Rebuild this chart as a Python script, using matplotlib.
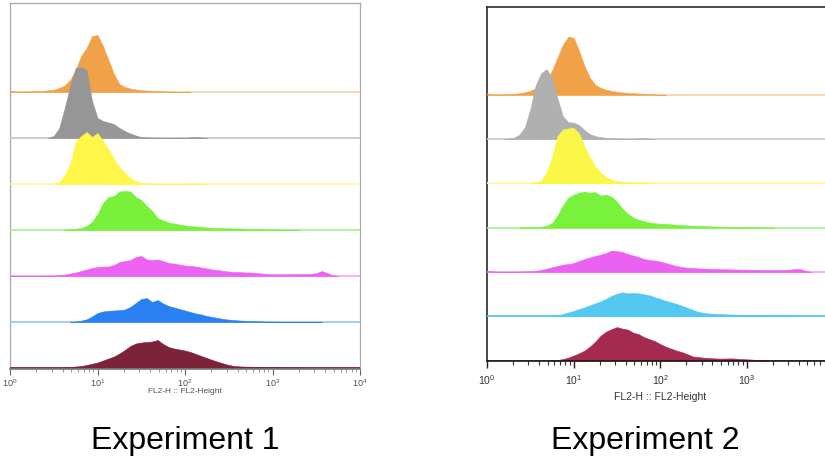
import numpy as np
import matplotlib
matplotlib.use("Agg")
import matplotlib.pyplot as plt
from matplotlib.ticker import FixedLocator, NullFormatter

plt.rcParams['font.family'] = ['Liberation Sans', 'DejaVu Sans']
plt.rcParams['mathtext.fontset'] = 'custom'
plt.rcParams['mathtext.rm'] = 'Liberation Sans'
plt.rcParams['mathtext.it'] = 'Liberation Sans'
plt.rcParams['mathtext.default'] = 'regular'

# ---------------- data ----------------
BINS_PER_DECADE = 16
panel_titles = ["Experiment 1", "Experiment 2"]
x_label = "FL2-H :: FL2-Height"
tick_values = [1, 10, 100, 1000, 10000]
tick_labels = ["$10^{0}$", "$10^{1}$", "$10^{2}$", "$10^{3}$", "$10^{4}$"]

# histogram counts (relative), one list per sample, starting at bin index *_start
exp1_orange_start = 0
exp1_orange = [1.5, 0.5, 0.4, 0.5, 0.7, 0.9, 1.2, 1.7, 2.4, 4, 6.5, 12, 22, 36, 44, 56, 57, 46, 32, 18,
               8, 5, 3.5, 2.5, 1.8, 1.5, 1.1, 0.8, 0.6, 0.4, 0.3, 0.2, 0.1, 0]
exp1_gray_start = 7
exp1_gray = [0.5, 2, 10, 30, 52, 70, 71, 68, 37, 20, 17, 15.5, 14, 10, 7, 4.5, 2.5, 1, 0.6, 0.4,
             0.3, 0.2, 0.2, 0.2, 0.3, 0.2, 0.8, 1, 0.5, 0]
exp1_yellow_start = 8
exp1_yellow = [0.3, 2, 9, 20, 42, 48, 52, 47, 51, 43, 35, 25, 17, 11, 6, 3, 1, 0.5, 0.3, 0.2,
               0.2, 0.2, 0.2, 0.2, 0.2, 0.4, 0.5, 0.3, 0]
exp1_green_start = 10
exp1_green = [0.3, 0.7, 1.2, 2, 4, 8, 16, 27, 33, 34, 38.5, 39, 38.5, 33, 30, 24, 19, 12, 9.5, 7.5,
              6.5, 5.5, 4.5, 4, 3.5, 3, 2.5, 2.3, 2, 1.9, 1.7, 1.6, 1.5, 1.3, 1.2, 1.1, 1, 0.8, 0.7, 0.6,
              0.5, 0.4, 0.3, 0]
exp1_magenta_start = 0
exp1_magenta = [0.5, 0.3, 0.2, 0.2, 0.2, 0.3, 0.3, 0.4, 0.6, 0.8, 1.5, 2.5, 3.5, 5, 6.5, 8, 9, 9.5, 9.5, 11,
                14, 15, 16, 19, 20, 16.5, 16, 16.5, 15, 13, 12.5, 11.5, 10.5, 10, 9.5, 8.5, 7.5, 6.5, 6, 5,
                4.5, 4, 4, 3.5, 3.5, 3, 2.5, 2, 1.8, 1.7, 1.7, 1.8, 1.8, 1.8, 2, 2.2, 2.8, 5, 3, 1, 0]
exp1_blue_start = 11
exp1_blue = [0.2, 0.5, 1.3, 2.7, 5.5, 9, 10.5, 11.2, 11.5, 11.8, 12.5, 15, 19, 23, 24, 20, 22, 18.5, 16, 14.5,
             13, 11.5, 10, 8.5, 7.5, 6, 5, 4, 3, 2.4, 1.9, 1.5, 1.2, 1, 0.8, 0.6, 0.4, 0.3, 0.25, 0.2,
             0.2, 0.2, 0.2, 0.15, 0.15, 0.1, 0]
exp1_maroon_start = 9
exp1_maroon = [0.1, 0.5, 1, 1.5, 2, 3, 4.3, 5.5, 7.5, 9.5, 11.5, 14.5, 18, 22, 24.5, 25.5, 26, 26.5, 28, 24,
               21, 19.5, 18.5, 17.5, 16, 14, 12, 10, 8, 6.3, 4.5, 3, 2, 1.6, 1.4, 1.3, 1.2, 1.1, 1, 1,
               0.9, 0.8, 0.7, 0.6, 0.5, 0.4, 0.2, 0]

exp2_orange_start = 0
exp2_orange = [1.5, 0.5, 0.4, 0.5, 0.7, 1, 1.5, 2.5, 4, 6.5, 9.5, 15, 24, 37, 50, 58, 57, 44, 29, 17,
               10, 7, 5, 4, 3, 2.4, 2, 1.6, 1.3, 1, 0.7, 0.4, 0.2, 0]
exp2_gray_start = 3
exp2_gray = [0.2, 0.6, 1.5, 4.5, 12, 30, 54, 66, 70, 61, 41, 23, 17, 16.5, 14, 9, 5, 3, 2, 1.3,
             0.9, 0.7, 0.5, 0.4, 0.4, 0.8, 1, 0.5, 0]
exp2_yellow_start = 8
exp2_yellow = [0.2, 0.6, 3, 11, 26, 47, 54, 55, 55.5, 50, 37, 26, 17, 11, 6.5, 3.5, 2.2, 1.5, 1.1, 0.8,
               0.5, 0.3, 0]
exp2_green_start = 6
exp2_green = [0.2, 0.3, 0.4, 0.6, 1, 2, 4.5, 12, 22, 30, 33, 35, 36, 35, 35.5, 32, 33, 31, 26, 19,
              14, 10, 8, 6.5, 5.2, 4.5, 4, 3.7, 3.4, 3, 2.6, 2.3, 2, 1.8, 1.6, 1.4, 1.2, 1.1, 1, 0.9,
              0.8, 0.7, 0.6, 0.5, 0.4, 0.3, 0.2, 0]
exp2_magenta_start = 0
exp2_magenta = [1.3, 0.8, 0.4, 0.3, 0.3, 0.4, 0.5, 0.6, 0.8, 1.2, 2, 3.3, 4.8, 6, 7.2, 8, 9, 11, 13, 14.5,
                16, 17.5, 19, 21.5, 21, 20, 18, 16.5, 15, 13, 12, 11.5, 10.5, 9, 7.5, 6, 5, 4.3, 3.9, 3.6,
                3.4, 3.2, 3, 2.8, 2.7, 2.6, 2.5, 2.4, 2.3, 2.2, 2.1, 2, 2, 2, 2, 2.1, 2.4, 3, 2.8, 1, 0]
exp2_blue_start = 12
exp2_blue = [0.2, 1, 2.3, 3.8, 5.5, 7.2, 9, 11, 13, 15, 17.5, 20.5, 22.5, 24, 23, 23.5, 23, 22, 21, 19,
             17.5, 15.5, 14, 12.5, 10.5, 8.5, 6.5, 4.5, 3.5, 2.8, 2.5, 2.3, 2, 1.8, 1.6, 1.5, 1.4, 1.3, 1.3, 1.2,
             1.2, 1.2, 1.2, 1.1, 1, 0.5, 0]
exp2_maroon_start = 12
exp2_maroon = [0.2, 0.6, 1.5, 3, 5, 7.3, 10, 14, 19, 25, 29, 31.5, 33.5, 32, 31, 28, 26.5, 23.5, 21.5, 19.5,
               16.5, 14, 12, 10, 8.5, 6.5, 4.2, 3.5, 3, 2.6, 2.2, 2, 2.1, 2.2, 2, 1.6, 1.3, 1, 0.6, 0.3, 0]

exp1_series = [(exp1_orange_start, exp1_orange), (exp1_gray_start, exp1_gray),
               (exp1_yellow_start, exp1_yellow), (exp1_green_start, exp1_green),
               (exp1_magenta_start, exp1_magenta), (exp1_blue_start, exp1_blue),
               (exp1_maroon_start, exp1_maroon)]
exp2_series = [(exp2_orange_start, exp2_orange), (exp2_gray_start, exp2_gray),
               (exp2_yellow_start, exp2_yellow), (exp2_green_start, exp2_green),
               (exp2_magenta_start, exp2_magenta), (exp2_blue_start, exp2_blue),
               (exp2_maroon_start, exp2_maroon)]

# ---------------- styles ----------------
exp1_colors = ["#F1A249", "#969696", "#FFF647", "#79F13B", "#EC63F2", "#2980F2", "#7C2239"]
exp1_lines = ["#F8D3AC", "#C9C9C9", "#FFF9A6", "#A9F28F", "#F5AEF5", "#9CC9F3", "#7C2239"]
exp2_colors = ["#F1A249", "#B0B0B0", "#FBF748", "#78F23B", "#EB62F2", "#55C8F2", "#A52A4F"]
exp2_lines = ["#F8D3AC", "#CFCFCF", "#FBF8A6", "#A9F290", "#F5AEF5", "#55C8F2", "#A52A4F"]

W, H = 825, 464
fig = plt.figure(figsize=(W / 100, H / 100), dpi=100)

def px_axes(x0, x1, y_top, y_bot):
    return fig.add_axes([x0 / W, 1 - y_bot / H, (x1 - x0) / W, (y_bot - y_top) / H])

ax1 = px_axes(10, 360, 4, 370)
ax2 = px_axes(487, 833.5, 8, 362)

panels = [
    (ax1, exp1_series, exp1_colors, exp1_lines, 46.0, 1.0, 366, "#A8A8A8", "#7A7A7A"),
    (ax2, exp2_series, exp2_colors, exp2_lines, 44.3, 0.4, 354, "#2A2A2A", "#1A1A1A"),
]

for ax, series, cols, lcols, spacing, base0, ytop, frame_col, axis_col in panels:
    n = len(series)
    for i, (start, vals) in enumerate(series):
        base = base0 + (n - 1 - i) * spacing
        v = np.asarray(vals, dtype=float)
        x = 10 ** ((start + np.arange(len(v))) / BINS_PER_DECADE)
        z = 2 + i * 2
        ax.plot([1, 1e4], [base, base], color=lcols[i], lw=1.3, zorder=z, solid_capstyle='butt')
        ax.fill_between(x, base, base + v, color=cols[i], lw=0.4, edgecolor=cols[i], zorder=z + 1)
    ax.set_xscale('log')
    ax.set_xlim(1, 1e4)
    ax.set_ylim(0, ytop)
    ax.set_yticks([])
    for s in ['top', 'left', 'right']:
        ax.spines[s].set_color(frame_col)
        ax.spines[s].set_linewidth(0.9 if ax is ax1 else 1.2)
    ax.spines['bottom'].set_color(axis_col)
    ax.spines['bottom'].set_linewidth(1.2)
    ax.spines['bottom'].set_zorder(30)
    ax.xaxis.set_major_locator(FixedLocator(tick_values))
    ax.set_xticklabels(tick_labels)
    minor = [m * 10 ** d for d in range(4) for m in range(2, 10)]
    ax.xaxis.set_minor_locator(FixedLocator(minor))
    ax.xaxis.set_minor_formatter(NullFormatter())

ax1.tick_params(axis='x', which='major', length=4, width=0.8, color="#666666",
                labelsize=6.5, labelcolor="#505050", pad=1.5)
ax1.tick_params(axis='x', which='minor', length=2, width=0.6, color="#888888")
ax2.tick_params(axis='x', which='major', length=5, width=1.0, color="#222222",
                labelsize=7.5, labelcolor="#333333", pad=3)
ax2.tick_params(axis='x', which='minor', length=3, width=0.8, color="#333333")

fig.text(185 / W, 1 - 392 / H, x_label, ha='center', va='center', fontsize=6, color="#505050")
fig.text(660 / W, 1 - 397 / H, x_label, ha='center', va='center', fontsize=7.5, color="#333333")

fig.text(185 / W, 1 - 441 / H, panel_titles[0], ha='center', va='center', fontsize=23, color="black")
fig.text(645 / W, 1 - 441 / H, panel_titles[1], ha='center', va='center', fontsize=23, color="black")

fig.savefig("out.png", dpi=100)
